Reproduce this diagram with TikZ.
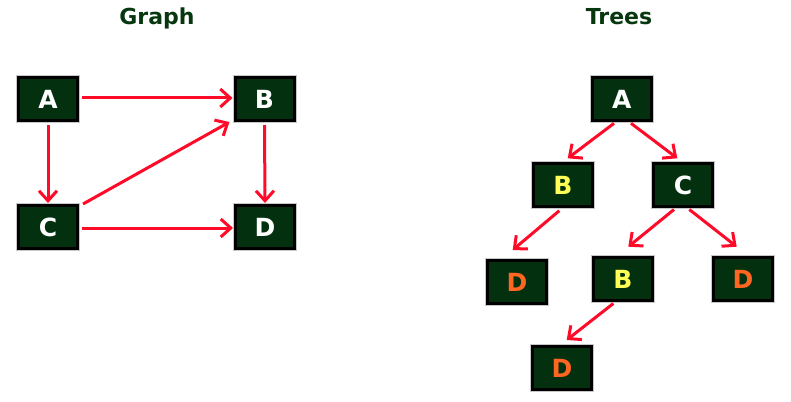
\documentclass[tikz,border=0pt]{standalone}
\usepackage{fontspec}
\newfontfamily\vf{DejaVu Sans}
\usetikzlibrary{arrows.meta,calc}
\definecolor{boxfill}{HTML}{03300F}
\definecolor{arrred}{HTML}{FF0A28}
\definecolor{titlegreen}{HTML}{07370E}
\definecolor{yel}{HTML}{FFFF55}
\definecolor{ora}{HTML}{FF6622}
\tikzset{
  box/.style={rectangle, fill=boxfill, draw=black, line width=3pt,
    preaction={draw=black!22, line width=5pt},
    minimum width=59pt, minimum height=43pt, inner sep=0pt,
    text=white, font=\vf\bfseries\fontsize{25pt}{25pt}\selectfont},
  yb/.style={box, text=yel},
  ob/.style={box, text=ora},
  ttl/.style={text=titlegreen, anchor=base, font=\vf\bfseries\fontsize{22pt}{22pt}\selectfont},
  arr/.style={draw=arrred, line width=3pt, -{Straight Barb[length=10pt,width=18pt]}},
}
\begin{document}
\begin{tikzpicture}[x=1pt,y=-1pt]
\useasboundingbox (0,0) rectangle (791,401);
% titles
\node[ttl] (tg) at (157,25) {Graph};
\node[ttl] (tt) at (619,25) {Trees};
% graph
\node[box] (A) at (48,99) {A};
\node[box] (B) at (264.5,99) {B};
\node[box] (C) at (48,227) {C};
\node[box] (D) at (265,227) {D};
\draw[arr] ($(A.east)+(3,-1)$) -- ($(B.west)+(-1,-1)$);
\draw[arr] ($(A.south)+(0,3)$) -- ($(C.north)+(0,-1)$);
\draw[arr] ($(C.east)+(3,1)$) -- ($(D.west)+(-1,1)$);
\draw[arr] ($(B.south)+(0,3)$) -- ($(D.north)+(0,-1)$);
\draw[arr] ($(C.north east)+(4,0)$) -- ($(B.south west)+(-4,0)$);
% tree
\node[box] (tA) at (621.7,99.3) {A};
\node[yb] (tB) at (563,185) {B};
\node[box] (tC) at (683,185) {C};
\node[ob] (tD1) at (517,282) {D};
\node[yb] (tB2) at (623,279) {B};
\node[ob] (tD2) at (743,279) {D};
\node[ob] (tD3) at (562,368) {D};
\draw[arr] ($(tA.south)+(-7.7,1)$) -- ($(tB.north)+(4.7,-3.7)$);
\draw[arr] ($(tA.south)+(9.3,1)$) -- ($(tC.north)+(-5.7,-3.7)$);
\draw[arr] ($(tB.south)+(-3.7,2.7)$) -- ($(tD1.north)+(-4.3,-9)$);
\draw[arr] ($(tC.south)+(-9,1.5)$) -- ($(tB2.north)+(5.3,-9.3)$);
\draw[arr] ($(tC.south)+(6.3,1.5)$) -- ($(tD2.north)+(-6.3,-9.3)$);
\draw[arr] ($(tB2.south)+(-9.7,1.5)$) -- ($(tD3.north)+(4.7,-5)$);
\end{tikzpicture}
\end{document}
